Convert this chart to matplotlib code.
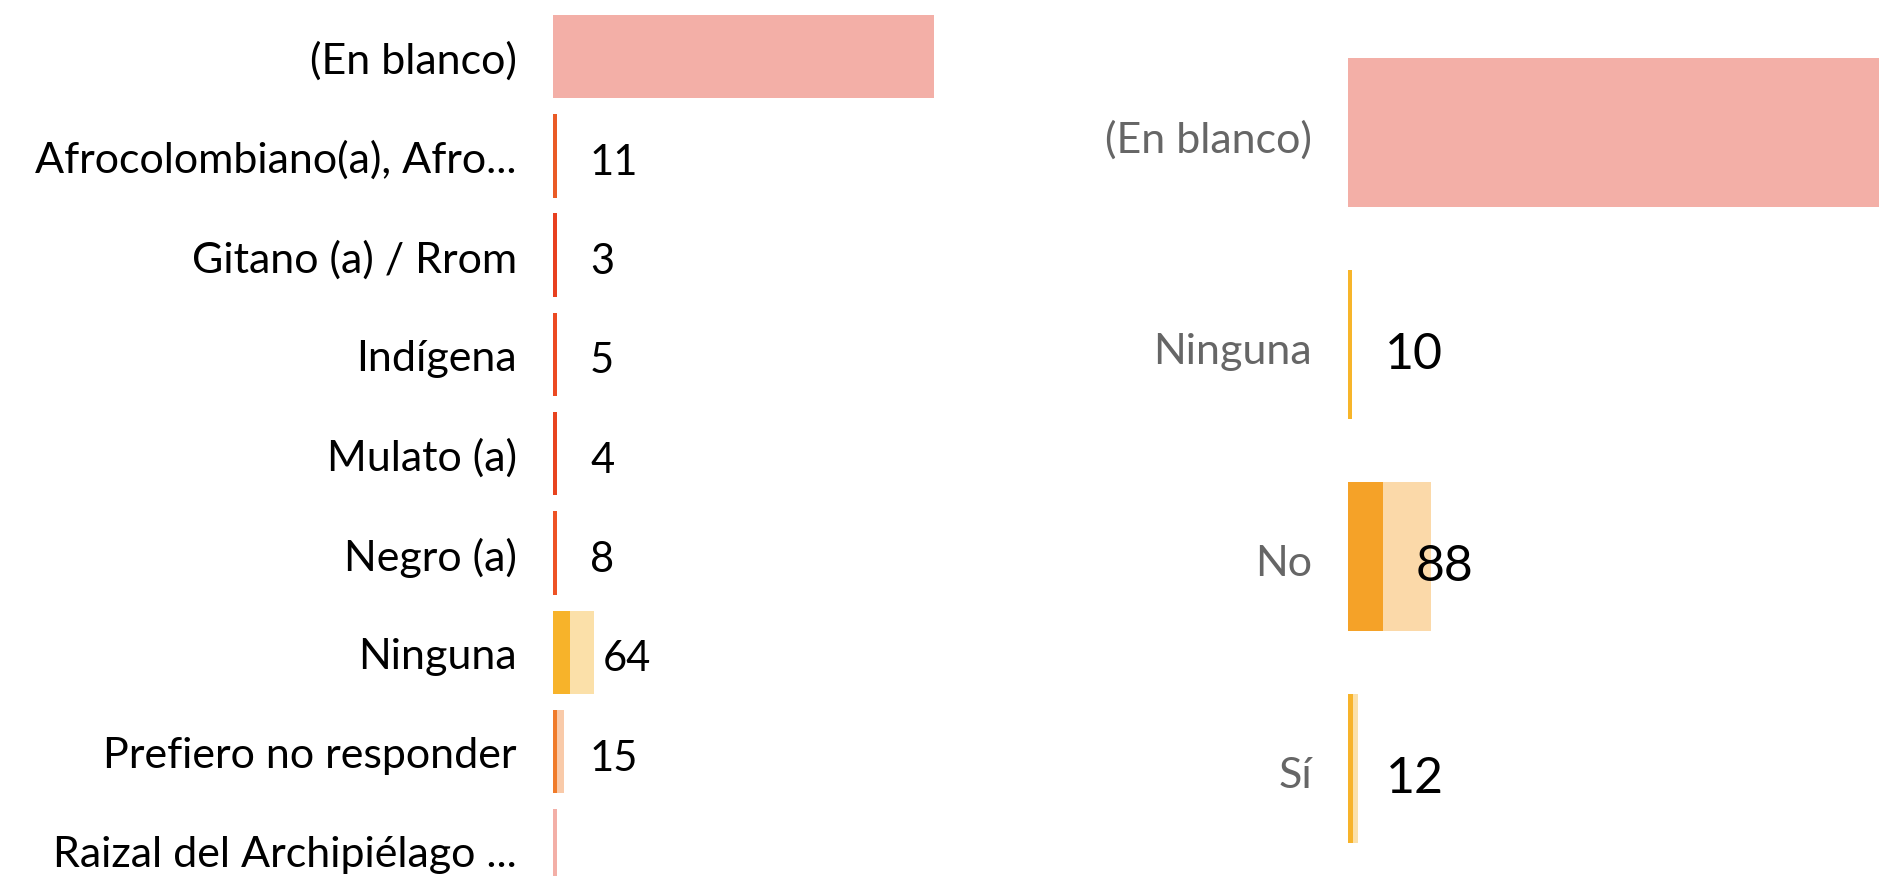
import matplotlib
matplotlib.use("Agg")
import matplotlib.pyplot as plt
from matplotlib.transforms import ScaledTranslation

plt.rcParams['font.family'] = ['Lato', 'DejaVu Sans']

# izquierda: grupo étnico
left_cats = ['(En blanco)', 'Afrocolombiano(a), Afro...', 'Gitano (a) / Rrom', 'Indígena',
             'Mulato (a)', 'Negro (a)', 'Ninguna', 'Prefiero no responder',
             'Raizal del Archipiélago ...']
left_total = [1433, 13, 3, 5, 4, 8, 154, 41, 2]
left_high = [0, 11, 3, 5, 4, 8, 64, 15, 0]
left_colors = ['#E13723', '#EA5B26', '#E84020', '#EC4A22', '#E8441F', '#EE5325',
               '#F7B32A', '#F07B2A', '#E13723']

# derecha: discapacidad
right_cats = ['(En blanco)', 'Ninguna', 'No', 'Sí']
right_total = [1433, 10, 208, 25]
right_high = [0, 10, 88, 12]
right_colors = ['#E13723', '#F7B52A', '#F5A228', '#F7B32A']

W, H = 1879, 876
fig = plt.figure(figsize=(W / 100, H / 100), dpi=100)


def draw(ax, cats, total, high, colors, xmax, ylim, bar_h, label_color, num_size,
         num_dy, lab_dy):
    ax.set_xlim(0, xmax)
    ax.set_ylim(*ylim)
    # ancho minimo visible (~4 px) como hace Power BI con barras muy pequeñas
    ax_px = ax.get_position().width * W
    min_w = 4 * xmax / ax_px
    ys = range(len(cats))
    for y, t, h, c in zip(ys, total, high, colors):
        if t > 0:
            ax.barh(y, max(t, min_w), height=bar_h, color=c, alpha=0.4, lw=0)
        if h > 0:
            hw = max(h, min_w)
            ax.barh(y, hw, height=bar_h, color=c, lw=0)
            ax.annotate(str(h), (hw, y), xytext=(33, num_dy), textcoords='offset pixels',
                        ha='left', va='center', fontsize=num_size, color='black')
    ax.set_yticks(list(ys))
    ax.set_yticklabels(cats, fontsize=31, color=label_color)
    ax.tick_params(axis='y', length=0, pad=26)
    off = ScaledTranslation(0, lab_dy / 100, fig.dpi_scale_trans)
    for lab in ax.get_yticklabels():
        lab.set_transform(lab.get_transform() + off)
    ax.set_xticks([])
    for s in ax.spines.values():
        s.set_visible(False)


ax1 = fig.add_axes([553 / W, 0, 407 / W, 1])
draw(ax1, left_cats, left_total, left_high, left_colors, 1530, (8.253, -0.569), 0.84,
     '#000000', 30, -7, -1)

ax2 = fig.add_axes([1348 / W, 0, 1 - 1348 / W, 1])
draw(ax2, right_cats, right_total, right_high, right_colors, 1333, (3.507, -0.625), 0.70,
     '#666666', 36, -10, -4)

fig.savefig('out.png', dpi=100)
